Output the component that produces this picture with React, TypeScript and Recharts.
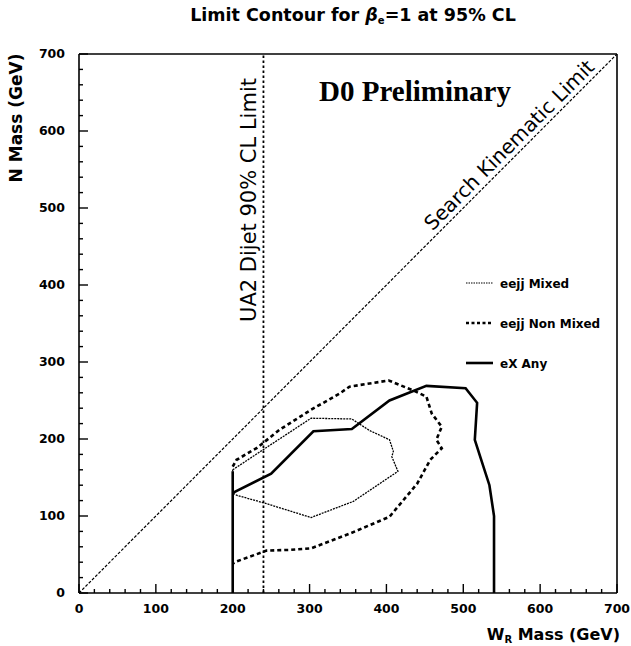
import React from 'react';
import { ComposedChart, Line, XAxis, YAxis, ReferenceLine } from 'recharts';

// ---- data (GeV) ----
const axisTicks = [0, 20, 40, 60, 80, 100, 120, 140, 160, 180, 200, 220, 240, 260, 280, 300, 320, 340, 360, 380, 400, 420, 440, 460, 480, 500, 520, 540, 560, 580, 600, 620, 640, 660, 680, 700];
const majorTicks = [0, 100, 200, 300, 400, 500, 600, 700];

const kinematicW = [0, 700];
const kinematicN = [0, 700];

const ua2Limit = 240;

const mixedW = [200, 244, 302, 355, 378, 404, 409, 407, 415, 357, 302, 244, 205, 200, 200];
const mixedN = [160, 189, 227, 226, 211, 199, 184, 177, 158, 119, 98, 116, 127, 130, 160];

const nonMixedW = [200, 205, 231, 261, 302, 339, 352, 403, 435, 452, 459, 472, 465, 472, 457, 440, 404, 352, 302, 274, 244, 205, 200];
const nonMixedN = [164, 173, 188, 212, 238, 259, 268, 276, 263, 255, 233, 216, 199, 188, 173, 142, 99, 77, 58, 56, 55, 41, 38];

const exAnyW = [200, 200, 200, 250, 305, 355, 404, 452, 503, 518, 515, 522, 534, 540, 540];
const exAnyN = [0, 158, 130, 155, 210, 213, 250, 269, 266, 247, 199, 177, 140, 100, 0];

const toPts = (w: number[], n: number[]) => w.map((x, i) => ({ x, y: n[i] }));

const FONT = '"DejaVu Sans", sans-serif';

const XTick = (props: any) => {
  const { x, y, payload } = props;
  const v = payload.value;
  const major = majorTicks.includes(v);
  return (
    <g>
      <line x1={x} y1={y} x2={x} y2={y - (major ? 9 : 4)} stroke="#000" strokeWidth={1.4} />
      {major && (
        <text x={x} y={y + 20} textAnchor="middle" fontFamily={FONT} fontWeight="bold" fontSize={12.5} fill="#000">
          {v}
        </text>
      )}
    </g>
  );
};

const YTick = (props: any) => {
  const { x, y, payload } = props;
  const v = payload.value;
  const major = majorTicks.includes(v);
  return (
    <g>
      <line x1={x} y1={y} x2={x + (major ? 9 : 4)} y2={y} stroke="#000" strokeWidth={1.4} />
      {major && (
        <text x={x - 14} y={y + 4} textAnchor="end" fontFamily={FONT} fontWeight="bold" fontSize={12.5} fill="#000">
          {v}
        </text>
      )}
    </g>
  );
};

export default function App() {
  return (
    <div style={{ position: 'absolute', left: 0, top: 0, width: 631, height: 646, background: '#fff' }}>
      <ComposedChart width={631} height={646} margin={{ top: 54, right: 14, bottom: 23, left: 39 }}>
        <XAxis
          type="number"
          dataKey="x"
          domain={[0, 700]}
          ticks={axisTicks}
          interval={0}
          tickSize={0}
          tickMargin={0}
          height={30}
          tick={<XTick />}
          tickLine={false}
          axisLine={{ stroke: '#000', strokeWidth: 1.6 }}
          allowDataOverflow
        />
        <YAxis
          type="number"
          dataKey="y"
          domain={[0, 700]}
          ticks={axisTicks}
          interval={0}
          tickSize={0}
          tickMargin={0}
          width={40}
          tick={<YTick />}
          tickLine={false}
          axisLine={{ stroke: '#000', strokeWidth: 1.6 }}
          allowDataOverflow
        />
        <ReferenceLine y={700} stroke="#000" strokeWidth={1.6} ifOverflow="visible" />
        <ReferenceLine x={700} stroke="#000" strokeWidth={1.6} ifOverflow="visible" />
        <ReferenceLine x={ua2Limit} stroke="#000" strokeWidth={1.8} strokeDasharray="2.5 2.5" />
        <Line
          data={toPts(kinematicW, kinematicN)}
          dataKey="y"
          type="linear"
          stroke="#000"
          strokeWidth={1.2}
          strokeDasharray="3 1.6"
          dot={false}
          activeDot={false}
          isAnimationActive={false}
        />
        <Line
          data={toPts(mixedW, mixedN)}
          dataKey="y"
          type="linear"
          stroke="#000"
          strokeWidth={1.3}
          strokeDasharray="2 1"
          dot={false}
          activeDot={false}
          isAnimationActive={false}
        />
        <Line
          data={toPts(nonMixedW, nonMixedN)}
          dataKey="y"
          type="linear"
          stroke="#000"
          strokeWidth={2.6}
          strokeDasharray="4 3"
          dot={false}
          activeDot={false}
          isAnimationActive={false}
        />
        <Line
          data={toPts(exAnyW, exAnyN)}
          dataKey="y"
          type="linear"
          stroke="#000"
          strokeWidth={2.6}
          dot={false}
          activeDot={false}
          isAnimationActive={false}
        />
      </ComposedChart>
      <svg width={631} height={646} style={{ position: 'absolute', left: 0, top: 0, pointerEvents: 'none' }}>
        <text x={353} y={21} textAnchor="middle" fontFamily={FONT} fontWeight="bold" fontSize={17.5} fill="#000">
          Limit Contour for <tspan fontStyle="italic">β</tspan>
          <tspan fontSize={10} dy={3}>e</tspan>
          <tspan dy={-3}>=1 at 95% CL</tspan>
        </text>
        <text x={415} y={101} textAnchor="middle" fontFamily='"Liberation Serif", serif' fontWeight="bold" fontSize={29} fill="#000">
          D0 Preliminary
        </text>
        <text transform="translate(256,200) rotate(-90)" textAnchor="middle" fontFamily={FONT} fontSize={21} fill="#000">
          UA2 Dijet 90% CL Limit
        </text>
        <text transform="translate(514,150) rotate(-45)" textAnchor="middle" fontFamily={FONT} fontSize={20} fill="#000">
          Search Kinematic Limit
        </text>
        <line x1={466} y1={283} x2={493} y2={283} stroke="#000" strokeWidth={1.2} strokeDasharray="1.5 1" />
        <text x={500} y={287.5} fontFamily={FONT} fontWeight="bold" fontSize={12} fill="#000">eejj Mixed</text>
        <line x1={466} y1={323} x2={493} y2={323} stroke="#000" strokeWidth={2.4} strokeDasharray="3 2.5" />
        <text x={500} y={327.5} fontFamily={FONT} fontWeight="bold" fontSize={12} fill="#000">eejj Non Mixed</text>
        <line x1={466} y1={363} x2={493} y2={363} stroke="#000" strokeWidth={2.6} />
        <text x={500} y={367.5} fontFamily={FONT} fontWeight="bold" fontSize={12} fill="#000">eX Any</text>
        <text transform="translate(22,118) rotate(-90)" textAnchor="middle" fontFamily={FONT} fontWeight="bold" fontSize={17} fill="#000">
          N Mass (GeV)
        </text>
        <text x={620} y={640} textAnchor="end" fontFamily={FONT} fontWeight="bold" fontSize={16} fill="#000">
          W<tspan fontSize={10} dy={3}>R</tspan>
          <tspan dy={-3}> Mass (GeV)</tspan>
        </text>
      </svg>
    </div>
  );
}
